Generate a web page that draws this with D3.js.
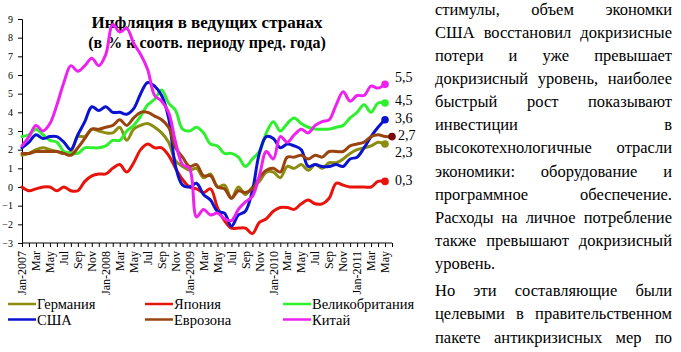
<!DOCTYPE html>
<html>
<head>
<meta charset="utf-8">
<script src="https://cdn.jsdelivr.net/npm/d3@7"></script>
<style>
	body { margin: 0; background: #fff; }
	svg { display: block; }
</style>
</head>
<body>
<script>
// monthly CPI, % y/y, Jan 2007 .. May 2011 (Eurozone to Jun 2011)
const germany = [1.7, 1.8, 2.0, 2.1, 2.0, 1.9, 1.8, 1.9, 2.7, 2.7, 3.1, 3.0,
	2.9, 2.9, 3.2, 2.5, 3.1, 3.3, 3.4, 3.2, 2.9, 2.4, 1.4, 1.1,
	0.9, 1.0, 0.5, 0.7, 0.0, 0.1, -0.6, 0.0, -0.4, 0.0, 0.3, 0.8,
	0.8, 0.5, 1.1, 1.0, 1.2, 0.9, 1.2, 1.0, 1.3, 1.3, 1.5, 1.8,
	2.0, 2.1, 2.2, 2.4, 2.3];
const japan = [0.0, -0.2, -0.1, 0.0, 0.0, -0.2, 0.0, -0.2, -0.2, 0.3, 0.6, 0.7,
	0.7, 1.0, 1.2, 0.8, 1.3, 2.0, 2.3, 2.1, 2.1, 1.7, 1.0, 0.4,
	0.0, -0.1, -0.3, -0.1, -1.1, -1.8, -2.2, -2.2, -2.2, -2.5, -1.9, -1.7,
	-1.3, -1.1, -1.1, -1.2, -0.9, -0.7, -0.9, -0.9, -0.6, 0.2, 0.1, 0.0,
	0.0, 0.0, 0.0, 0.3, 0.3];
const uk = [2.7, 2.8, 3.1, 2.8, 2.5, 2.4, 1.9, 1.8, 1.8, 2.1, 2.1, 2.1,
	2.2, 2.5, 2.5, 3.0, 3.3, 3.8, 4.4, 4.7, 5.2, 4.5, 4.1, 3.1,
	3.0, 3.2, 2.9, 2.3, 2.2, 1.8, 1.8, 1.6, 1.1, 1.5, 1.9, 2.9,
	3.5, 3.0, 3.4, 3.7, 3.4, 3.2, 3.1, 3.1, 3.1, 3.2, 3.3, 3.7,
	4.0, 4.4, 4.0, 4.5, 4.5];
const usa = [2.1, 2.4, 2.8, 2.6, 2.7, 2.7, 2.4, 2.0, 2.8, 3.5, 4.3, 4.1,
	4.3, 4.0, 4.0, 3.9, 4.2, 5.0, 5.6, 5.4, 4.9, 3.7, 1.1, 0.1,
	0.0, 0.2, -0.4, -0.7, -1.3, -1.4, -2.1, -1.5, -1.3, -0.2, 1.8, 2.7,
	2.6, 2.1, 2.3, 2.2, 2.0, 1.1, 1.2, 1.1, 1.1, 1.2, 1.1, 1.5,
	1.6, 2.1, 2.7, 3.2, 3.6];
const eurozone = [1.8, 1.8, 1.9, 1.9, 1.9, 1.9, 1.8, 1.7, 2.1, 2.6, 3.1, 3.1,
	3.2, 3.3, 3.6, 3.3, 3.7, 4.0, 4.0, 3.8, 3.6, 3.2, 2.1, 1.6,
	1.1, 1.2, 0.6, 0.6, 0.0, -0.1, -0.6, -0.2, -0.3, -0.1, 0.5, 0.9,
	1.0, 0.8, 1.6, 1.6, 1.7, 1.5, 1.7, 1.6, 1.9, 1.9, 1.9, 2.2,
	2.3, 2.4, 2.7, 2.8, 2.7, 2.7];
const china = [2.2, 2.7, 3.3, 3.0, 3.4, 4.4, 5.6, 6.5, 6.2, 6.5, 6.9, 6.5,
	7.1, 8.7, 8.3, 8.5, 7.7, 7.1, 6.3, 4.9, 4.6, 4.0, 2.4, 1.2,
	1.0, -1.6, -1.2, -1.5, -1.4, -1.7, -1.8, -1.2, -0.8, -0.5, 0.6, 1.9,
	1.5, 2.7, 2.4, 2.8, 3.1, 2.9, 3.3, 3.5, 3.6, 4.4, 5.1, 4.6,
	4.9, 4.9, 5.4, 5.3, 5.5];

const seriesNames = ["Германия", "Япония", "Великобритания", "США", "Еврозона", "Китай"];
const endLabels = ["2,3", "0,3", "4,5", "3,6", "2,7", "5,5"];

const xTickLabels = ["Jan-2007", "Mar", "May", "Jul", "Sep", "Nov",
	"Jan-2008", "Mar", "May", "Jul", "Sep", "Nov",
	"Jan-2009", "Mar", "May", "Jul", "Sep", "Nov",
	"Jan-2010", "Mar", "May", "Jul", "Sep", "Nov",
	"Jan-2011", "Mar", "May"];
const yTicks = [-3, -2, -1, 0, 1, 2, 3, 4, 5, 6, 7, 8, 9];

const titleLines = ["Инфляция в ведущих странах", "(в % к соотв. периоду пред. года)"];

const textLines = [
	"стимулы, объем экономки",
	"США восстановил докризисные",
	"потери и уже превышает",
	"докризисный уровень, наиболее",
	"быстрый рост показывают",
	"инвестиции в",
	"высокотехнологичные отрасли",
	"экономики: оборудование и",
	"программное обеспечение.",
	"Расходы на личное потребление",
	"также превышают докризисный",
	"уровень.",
	"Но эти составляющие были",
	"целевыми в правительственном",
	"пакете антикризисных мер по"
];
const paragraphEnds = [11];

// drawing styles
const serif = "'Liberation Serif', Tinos, 'DejaVu Serif', serif";
const colors = ["#8c8c10", "#e8140c", "#2ff02f", "#0a14d0", "#99430f", "#ee22ee"];
const markerColors = ["#8c8c10", "#e8140c", "#2ff02f", "#0a14d0", "#7a0808", "#ee22ee"];
const labelNudge = [8, -1, -3, -2, -2, -7];

const width = 681;
const height = 352;

const svg = d3.select("body")
	.append("svg")
	.attr("width", width)
	.attr("height", height)
	.style("font-family", serif);

const monthCount = eurozone.length;
const scaleX = d3.scalePoint().domain(d3.range(monthCount)).range([22, 392]);
const scaleY = d3.scaleLinear().domain([-3, 9]).range([243, 19]);

const allSeries = [germany, japan, uk, usa, eurozone, china];

// title
svg.selectAll(".title")
	.data(titleLines)
	.join("text")
	.attr("class", "title")
	.attr("x", 207)
	.attr("y", (d, i) => 28 + i * 20)
	.attr("text-anchor", "middle")
	.style("font-family", serif)
	.style("font-weight", "bold")
	.style("font-size", (d, i) => i === 0 ? "17px" : "16px")
	.text(d => d);

// axes
const axisY = d3.axisLeft(scaleY).tickValues(yTicks).tickSize(4).tickFormat(d3.format("d"));
svg.append("g")
	.attr("transform", "translate(22,0)")
	.call(axisY)
	.call(g => g.attr("font-family", null))
	.call(g => g.selectAll("text").style("font-size", "10px").attr("x", -9).style("font-family", serif));

const axisX = d3.axisBottom(scaleX).tickSize(4).tickFormat("");
svg.append("g")
	.attr("transform", `translate(0,${scaleY(-3)})`)
	.call(axisX)
	.call(g => g.select(".domain").attr("d", `M22,0H392`));

svg.selectAll("path.domain, .tick line").attr("stroke", "#000");

svg.append("g")
	.selectAll("text")
	.data(xTickLabels)
	.join("text")
	.attr("transform", (d, i) => `translate(${scaleX(i * 2)},${scaleY(-3) + 8}) rotate(-90)`)
	.attr("text-anchor", "end")
	.attr("dy", "0.35em")
	.style("font-family", serif)
	.style("font-size", "12px")
	.text(d => d);

// lines
const line = d3.line()
	.x((d, i) => scaleX(i))
	.y(d => scaleY(d))
	.curve(d3.curveCatmullRom.alpha(0.5));

svg.append("g")
	.selectAll("path")
	.data(allSeries)
	.join("path")
	.attr("fill", "none")
	.attr("stroke", (d, i) => colors[i])
	.attr("stroke-width", 3)
	.attr("stroke-linejoin", "round")
	.attr("stroke-linecap", "round")
	.attr("d", line);

// last point markers and labels
svg.append("g")
	.selectAll("circle")
	.data(allSeries)
	.join("circle")
	.attr("cx", d => scaleX(d.length - 1))
	.attr("cy", d => scaleY(d[d.length - 1]))
	.attr("r", 3.8)
	.attr("fill", (d, i) => markerColors[i]);

svg.append("g")
	.selectAll("text")
	.data(allSeries)
	.join("text")
	.attr("x", d => scaleX(d.length - 1) + (d.length === monthCount ? 6 : 10))
	.attr("y", (d, i) => scaleY(d[d.length - 1]) + labelNudge[i])
	.attr("dy", "0.35em")
	.style("font-family", serif)
	.style("font-size", "14px")
	.text((d, i) => endLabels[i]);

// legend
const legend = svg.append("g")
	.selectAll("g")
	.data(seriesNames)
	.join("g")
	.attr("transform", (d, i) => `translate(${[8, 145, 283][i % 3]},${304 + Math.floor(i / 3) * 15.5})`);

legend.append("line")
	.attr("x1", 0)
	.attr("x2", 28)
	.attr("stroke", (d, i) => colors[i])
	.attr("stroke-width", 2.5);

legend.append("text")
	.attr("x", 29)
	.attr("dy", "0.35em")
	.style("font-family", serif)
	.style("font-size", "14.5px")
	.text(d => d);

// justified paragraph on the right
const textLeft = 435;
const textRight = 672;

textLines.forEach((lineText, i) => {
	const extra = paragraphEnds.filter(p => i > p).length * 4;
	const y = 14.5 + i * 23.15 + extra;
	const words = lineText.split(" ");
	const lastLine = paragraphEnds.includes(i);
	const g = svg.append("g").attr("class", "para");
	const nodes = words.map(w => g.append("text")
		.attr("y", y)
		.style("font-family", serif)
		.style("font-size", "16.5px")
		.text(w));
	const widths = nodes.map(n => n.node().getComputedTextLength());
	const gap = (lastLine || words.length < 2) ? 4 : (textRight - textLeft - d3.sum(widths)) / (words.length - 1);
	let x = textLeft;
	nodes.forEach((n, k) => {
		n.attr("x", x);
		x += widths[k] + gap;
	});
});
</script>
</body>
</html>
